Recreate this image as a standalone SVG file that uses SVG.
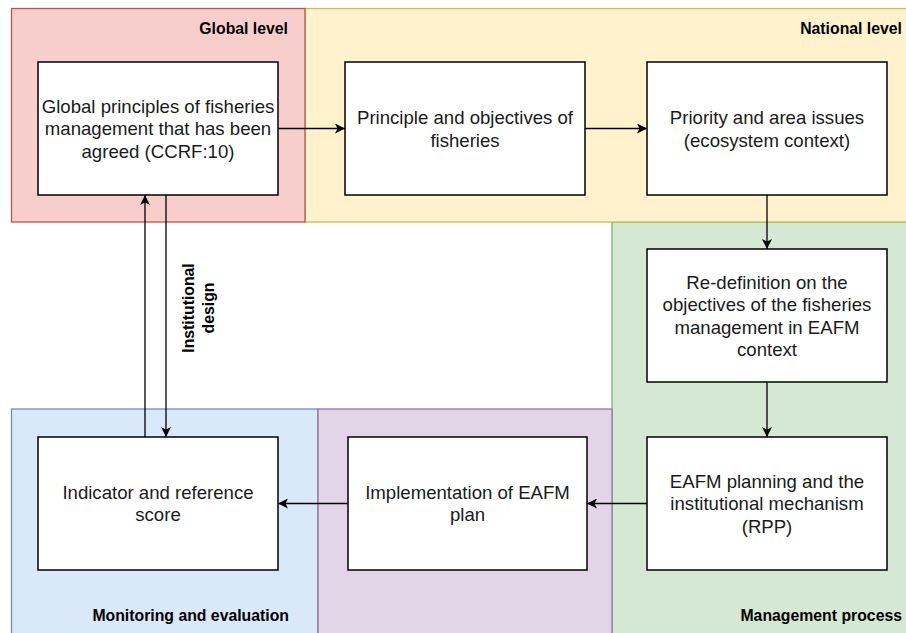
<svg xmlns="http://www.w3.org/2000/svg" width="906" height="633" viewBox="0 0 906 633">
<style>
.node rect{fill:#fff;stroke:#000;stroke-width:1.5}
.node text{font-family:"Liberation Sans",Arial,Helvetica,sans-serif;font-size:18.6px;fill:#1a1a1a;text-anchor:middle}
.lbl{font-family:"Liberation Sans",Arial,Helvetica,sans-serif;font-size:15.8px;font-weight:bold;fill:#000;text-anchor:end}
.edge{fill:none;stroke:#000;stroke-width:1.3;marker-end:url(#arr)}
</style>
<defs>
<marker id="arr" markerUnits="userSpaceOnUse" markerWidth="11" markerHeight="10" refX="10" refY="5" orient="auto" viewBox="0 0 11 10">
<path d="M0,0 L10,5 L0,10 L2.5,5 Z" fill="#000"/>
</marker>
</defs>
<rect width="906" height="633" fill="#fff"/>
<g id="groups">
<rect x="612" y="222" width="310" height="430" fill="#d5e8d4" stroke="#82b366" stroke-width="1.3"/>
<rect x="11.5" y="409" width="306.5" height="240" fill="#dae8fc" stroke="#6c8ebf" stroke-width="1.3"/>
<rect x="318" y="409" width="294" height="240" fill="#e1d5e7" stroke="#9673a6" stroke-width="1.3"/>
<rect x="305" y="8.5" width="620" height="213.5" fill="#fff2cc" stroke="#d6b656" stroke-width="1.3"/>
<rect x="11.5" y="8.5" width="293.5" height="213.5" fill="#f8cecc" stroke="#b85450" stroke-width="1.3"/>
<text class="lbl" x="288" y="34">Global level</text>
<text class="lbl" x="902" y="34">National level</text>
<text class="lbl" x="902" y="621">Management process</text>
<text class="lbl" x="289" y="621">Monitoring and evaluation</text>
</g>
<g id="n-global" class="node">
<rect x="38" y="62" width="240" height="133"/>
<text x="158" y="112.5">Global principles of fisheries</text>
<text x="158" y="135">management that has been</text>
<text x="158" y="157.5">agreed (CCRF:10)</text>
</g>
<g id="n-principle" class="node">
<rect x="345" y="62" width="240" height="133"/>
<text x="465" y="124">Principle and objectives of</text>
<text x="465" y="146.5">fisheries</text>
</g>
<g id="n-priority" class="node">
<rect x="647" y="62" width="240" height="133"/>
<text x="767" y="124">Priority and area issues</text>
<text x="767" y="146.5">(ecosystem context)</text>
</g>
<g id="n-redef" class="node">
<rect x="647" y="249" width="240" height="133"/>
<text x="767" y="288.5">Re-definition on the</text>
<text x="767" y="311">objectives of the fisheries</text>
<text x="767" y="333.5">management in EAFM</text>
<text x="767" y="356">context</text>
</g>
<g id="n-eafm" class="node">
<rect x="647" y="437" width="240" height="133"/>
<text x="767" y="487.5">EAFM planning and the</text>
<text x="767" y="510">institutional mechanism</text>
<text x="767" y="532.5">(RPP)</text>
</g>
<g id="n-impl" class="node">
<rect x="348" y="437" width="239" height="133"/>
<text x="467.5" y="498.5">Implementation of EAFM</text>
<text x="467.5" y="521">plan</text>
</g>
<g id="n-indicator" class="node">
<rect x="38" y="437" width="240" height="133"/>
<text x="158" y="498.5">Indicator and reference</text>
<text x="158" y="521">score</text>
</g>
<g id="connectors">
<path class="edge" d="M278,128.5 H345"/>
<path class="edge" d="M585,128.5 H647"/>
<path class="edge" d="M767,195 V249"/>
<path class="edge" d="M767,382 V437"/>
<path class="edge" d="M647,503.5 H587"/>
<path class="edge" d="M348,503.5 H278"/>
<path class="edge" d="M145,437 V195"/>
<path class="edge" d="M166,195 V437"/>
<text class="lbl" style="text-anchor:middle" transform="translate(193.5,308) rotate(-90)">Institutional</text>
<text class="lbl" style="text-anchor:middle" transform="translate(213.5,308) rotate(-90)">design</text>
</g>
</svg>
